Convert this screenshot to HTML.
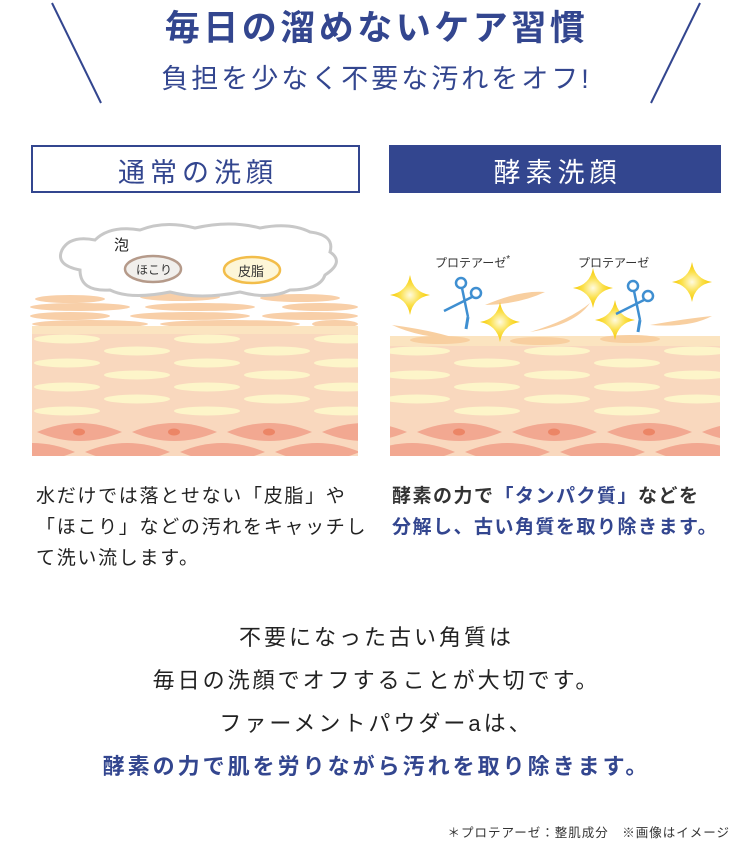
<!DOCTYPE html>
<html><head><meta charset="utf-8"><style>
body{margin:0;width:750px;height:840px;background:#fff;font-family:"Liberation Sans","Noto Sans CJK JP",sans-serif;color:#333;position:relative;overflow:hidden}
.a{position:absolute}
.t{white-space:nowrap}
</style></head><body>
<svg class="a" style="left:0;top:0" width="750" height="840">
<defs>
<pattern id="sk" x="32" y="333" width="140" height="24" patternUnits="userSpaceOnUse">
<rect width="140" height="24" fill="#f9d8be"/>
<ellipse cx="35" cy="6" rx="33" ry="4.5" fill="#fdf5c9"/>
<ellipse cx="105" cy="18" rx="33" ry="4.5" fill="#fdf5c9"/>
</pattern>
<pattern id="cl" x="32" y="418" width="95" height="40" patternUnits="userSpaceOnUse">
<rect width="95" height="40" fill="#f9d8be"/>
<path d="M5 14 Q47 -4 90 14 Q47 32 5 14Z" fill="#f2a891"/>
<ellipse cx="47" cy="14" rx="6" ry="3.5" fill="#ec8566"/>
<path d="M-42 34 Q0 16 43 34 Q0 52 -42 34Z" fill="#f2a891"/>
<path d="M53 34 Q95 16 138 34 Q95 52 53 34Z" fill="#f2a891"/>
</pattern>
<radialGradient id="gl"><stop offset="0" stop-color="#fffbe0"/><stop offset="0.5" stop-color="#fbe04a"/><stop offset="1" stop-color="#f5c800"/></radialGradient>
<g id="sp"><path d="M0 -20 Q3 -3 20 0 Q3 3 0 20 Q-3 3 -20 0 Q-3 -3 0 -20Z" fill="url(#gl)"/></g>
<g id="sc" fill="none" stroke="#3f8fd1" stroke-width="2.5"><circle cx="-5" cy="-24" r="5"/><circle cx="10" cy="-14" r="5"/><path d="M-4 -19 L2 10 M6 -10 L-22 4" /><path d="M2 10 L0 22" stroke-width="3"/></g>
</defs>
<line x1="52" y1="3" x2="101" y2="103" stroke="#33468f" stroke-width="2"/>
<line x1="700" y1="3" x2="651" y2="103" stroke="#33468f" stroke-width="2"/>
<rect x="32" y="146" width="327" height="46" fill="none" stroke="#33468f" stroke-width="2"/>
<rect x="389" y="145" width="332" height="48" fill="#33468f"/>
<g>
<ellipse cx="70" cy="299" rx="35" ry="4" fill="#f8cfa8"/><ellipse cx="180" cy="297" rx="40" ry="4" fill="#f8cfa8"/><ellipse cx="300" cy="298" rx="40" ry="4" fill="#f8cfa8"/>
<ellipse cx="80" cy="307" rx="50" ry="4" fill="#f8cfa8"/><ellipse cx="200" cy="307" rx="55" ry="4" fill="#f8cfa8"/><ellipse cx="320" cy="307" rx="38" ry="4" fill="#f8cfa8"/>
<ellipse cx="70" cy="316" rx="40" ry="4" fill="#f8cfa8"/><ellipse cx="190" cy="316" rx="60" ry="4" fill="#f8cfa8"/><ellipse cx="310" cy="316" rx="48" ry="4" fill="#f8cfa8"/>
<ellipse cx="90" cy="324" rx="58" ry="4" fill="#f8cfa8"/><ellipse cx="230" cy="324" rx="70" ry="4" fill="#f8cfa8"/><ellipse cx="335" cy="324" rx="23" ry="4" fill="#f8cfa8"/>
<rect x="32" y="326" width="326" height="8" fill="#fbe4c0"/>
<rect x="32" y="334" width="326" height="86" fill="url(#sk)"/>
<rect x="32" y="418" width="326" height="38" fill="url(#cl)"/>
<path d="M80 270 Q55 265 62 250 Q70 235 95 240 Q110 225 140 230 Q165 220 195 228 Q230 220 260 228 Q290 222 310 232 Q335 235 330 252 Q345 262 325 275 Q320 290 290 290 Q270 300 240 292 Q200 300 170 292 Q130 300 110 290 Q80 292 80 270Z" fill="#fff" stroke="#c8c8c8" stroke-width="3"/>
<ellipse cx="153" cy="269" rx="28" ry="13" fill="#f1efec" stroke="#b59a8a" stroke-width="2.5"/>
<ellipse cx="252" cy="270" rx="28" ry="13" fill="#fdf6d8" stroke="#f2bd4a" stroke-width="2.5"/>
</g>
<g>
<rect x="390" y="336" width="330" height="10" fill="#fbe4c0"/>
<rect x="390" y="346" width="330" height="74" fill="url(#sk)"/>
<rect x="390" y="418" width="330" height="38" fill="url(#cl)"/>
<ellipse cx="440" cy="340" rx="30" ry="4" fill="#f8cfa0"/><ellipse cx="540" cy="341" rx="30" ry="4" fill="#f8cfa0"/><ellipse cx="630" cy="339" rx="30" ry="4" fill="#f8cfa0"/>
<path d="M392 325 Q430 330 455 338 Q420 338 392 325Z" fill="#f8cfa0"/>
<path d="M485 305 Q520 290 545 292 Q520 304 485 305Z" fill="#f8cfa0"/>
<path d="M530 332 Q570 320 590 303 Q575 325 530 332Z" fill="#f8cfa0"/>
<path d="M650 325 Q690 318 712 316 Q690 328 650 325Z" fill="#f8cfa0"/>
<use href="#sp" x="410" y="295"/><use href="#sp" x="500" y="322"/><use href="#sp" x="593" y="288"/><use href="#sp" x="615" y="320"/><use href="#sp" x="692" y="282"/>
<use href="#sc" x="466" y="307"/><use href="#sc" x="638" y="310"/>
</g>
</svg>
<div class="a t" style="left:0;width:753px;text-align:center;top:0px;font-size:35px;font-weight:bold;color:#33468f;letter-spacing:3.5px">毎日の溜めないケア習慣</div>
<div class="a t" style="left:0;width:753px;text-align:center;top:57px;font-size:27px;color:#33468f;letter-spacing:3px">負担を少なく不要な汚れをオフ!</div>
<div class="a t" style="left:32px;width:332px;text-align:center;top:151px;font-size:27px;color:#33468f;letter-spacing:5px">通常の洗顔</div>
<div class="a t" style="left:389px;width:337px;text-align:center;top:151px;font-size:27px;color:#fff;letter-spacing:5px">酵素洗顔</div>
<div class="a t" style="left:114px;top:234px;font-size:15px;color:#222">泡</div>
<div class="a t" style="left:136px;top:261px;font-size:12px">ほこり</div>
<div class="a t" style="left:238px;top:261px;font-size:13px">皮脂</div>
<div class="a t" style="left:435px;top:254px;font-size:12px">プロテアーゼ<sup style="font-size:10px">*</sup></div>
<div class="a t" style="left:578px;top:254px;font-size:12px">プロテアーゼ</div>
<div class="a t" style="left:36px;top:481px;font-size:19px;letter-spacing:1.7px;line-height:31px;color:#222">水だけでは落とせない「皮脂」や<br>「ほこり」などの汚れをキャッチし<br>て洗い流します。</div>
<div class="a t" style="left:392px;top:481px;font-size:19px;letter-spacing:1.5px;line-height:31px;font-weight:bold;color:#333">酵素の力で<span style="color:#33468f">「タンパク質」</span>などを<br><span style="color:#33468f">分解し、古い角質を取り除きます。</span></div>
<div class="a t" style="left:0;width:753px;text-align:center;top:616px;font-size:22px;letter-spacing:3px;line-height:43px;color:#222">不要になった古い角質は<br>毎日の洗顔でオフすることが大切です。<br>ファーメントパウダーaは、<br><b style="color:#33468f;font-size:22px;letter-spacing:3px">酵素の力で肌を労りながら汚れを取り除きます。</b></div>
<div class="a t" style="right:20px;top:822px;font-size:12.5px;letter-spacing:1px">＊プロテアーゼ：整肌成分　※画像はイメージ</div>
</body></html>
